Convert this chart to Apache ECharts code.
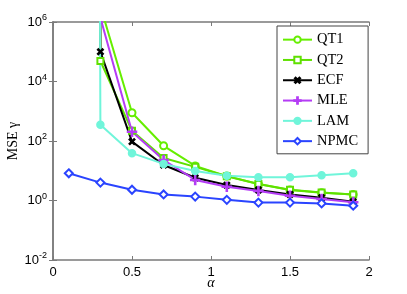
<!DOCTYPE html>
<html><head><meta charset="utf-8">
<script src="https://cdn.jsdelivr.net/npm/echarts@6/dist/echarts.min.js"></script>
<style>html,body{margin:0;padding:0;background:#fff}#c{width:407px;height:294px}</style>
</head><body><div id="c"></div>
<script>
// Values. 1e300 stands for an off-scale (effectively infinite) value.
const alphas = [0.1, 0.3, 0.5, 0.7, 0.9, 1.1, 1.3, 1.5, 1.7, 1.9];
const qt1  = [null, 3.4e6, 890, 69, 14.5, 6.6, 3.6, 2.25, 1.83, 1.6];
const qt2  = [1e300, 4.9e4, 220, 27, 13.5, 6.5, 3.6, 2.3, 1.85, 1.6];
const ecf  = [1e300, 1.0e5, 95, 15.6, 5.8, 3.3, 2.25, 1.6, 1.24, 0.91];
const mle  = [null, 1.4e6, 205, 23, 4.9, 2.9, 2.1, 1.45, 1.12, 0.87];
const lam  = [1e300, 350, 39, 17, 9.8, 6.8, 6.0, 6.0, 7.0, 8.2];
const npmc = [8.2, 4.0, 2.3, 1.6, 1.35, 1.05, 0.85, 0.85, 0.8, 0.67];
const xTicks = [0, 0.5, 1, 1.5, 2];
const yTickExps = [-2, 0, 2, 4, 6];

const seriesDefs = [
  {name:'QT1', data:qt1, color:'#66ee00', symbol:'emptyCircle', size:7},
  {name:'QT2', data:qt2, color:'#5fe000', symbol:'emptyRect', size:6},
  {name:'ECF', data:ecf, color:'#000000', symbol:'path://M-0.8,-5H0.8V-0.8H5V0.8H0.8V5H-0.8V0.8H-5V-0.8H-0.8Z', size:7, rotate:45},
  {name:'MLE', data:mle, color:'#b43cf5', symbol:'path://M-0.6,-5H0.6V-0.6H5V0.6H0.6V5H-0.6V0.6H-5V-0.6H-0.6Z', size:9},
  {name:'LAM', data:lam, color:'#70f5da', symbol:'circle', size:7},
  {name:'NPMC', data:npmc, color:'#2a44ff', symbol:'emptyDiamond', size:8}
];

const serif = '"Liberation Serif", "DejaVu Serif", serif';
const sans = '"Liberation Sans", Arial, sans-serif';
const axisGray = '#7a7a7a';

const chart = echarts.init(document.getElementById('c'), null, {renderer:'canvas'});
chart.setOption({
  animation:false,
  backgroundColor:'#fff',
  grid:{left:53, right:38, top:22, bottom:34, containLabel:false, outerBoundsMode:'none'},
  legend:{
    left:277, top:26, orient:'vertical',
    data: seriesDefs.map(s=>s.name),
    backgroundColor:'#fff', borderColor:'#444', borderWidth:1,
    padding:[6,10,5,5], itemWidth:29, itemHeight:8, itemGap:5,
    textStyle:{fontFamily:serif, fontSize:14.5, lineHeight:15.3, color:'#000'}
  },
  xAxis:[{
    type:'value', min:0, max:2, interval:0.5,
    name:'α', nameLocation:'middle', nameGap:16, nameMoveOverlap:false,
    nameTextStyle:{fontFamily:serif, fontSize:14, fontStyle:'italic', color:'#000', verticalAlign:'top'},
    axisLine:{lineStyle:{color:axisGray, width:1.5}},
    axisTick:{inside:true, length:4, lineStyle:{color:axisGray}},
    axisLabel:{fontFamily:sans, fontSize:13, color:'#000', margin:6,
      formatter:v=>xTicks.includes(v)?String(v):''},
    splitLine:{show:false}
  },{
    type:'value', min:0, max:2, interval:0.5, position:'top',
    axisLine:{lineStyle:{color:axisGray, width:1.5}},
    axisTick:{inside:true, length:4, lineStyle:{color:axisGray}},
    axisLabel:{show:false}, splitLine:{show:false}
  }],
  yAxis:[{
    type:'log', logBase:10, min:1e-2, max:1e6, interval:2,
    name:'MSE γ', nameLocation:'middle', nameGap:33, nameMoveOverlap:false,
    nameTextStyle:{fontFamily:serif, fontSize:14, color:'#000'},
    axisLine:{lineStyle:{color:axisGray, width:1.5}},
    axisTick:{inside:true, length:4, lineStyle:{color:axisGray}},
    minorTick:{show:false},
    axisLabel:{fontFamily:sans, fontSize:13, color:'#000', margin:6,
      formatter:v=>{const e=Math.round(Math.log10(v)); return '{b|10}{s|'+e+'}';},
      rich:{b:{fontFamily:sans, fontSize:13, color:'#000'}, s:{fontFamily:sans, fontSize:9, color:'#000', verticalAlign:'top', padding:[0,0,8,0]}}},
    splitLine:{show:false}
  },{
    type:'log', logBase:10, min:1e-2, max:1e6, interval:2, position:'right',
    axisLine:{lineStyle:{color:axisGray, width:1.5}},
    axisTick:{inside:true, length:4, lineStyle:{color:axisGray}},
    axisLabel:{show:false}, splitLine:{show:false}
  }],
  series: seriesDefs.map(s=>({
    name:s.name, type:'line', clip:true,
    data: alphas.map((a,i)=>[a, s.data[i]]).filter(p=>p[1]!=null),
    symbol:s.symbol, symbolSize:s.size, symbolRotate:s.rotate||0,
    showAllSymbol:true,
    lineStyle:{color:s.color, width:2},
    itemStyle:{color:s.color, borderColor:s.color, borderWidth:1.5},
    emphasis:{disabled:true}
  }))
});
</script></body></html>
